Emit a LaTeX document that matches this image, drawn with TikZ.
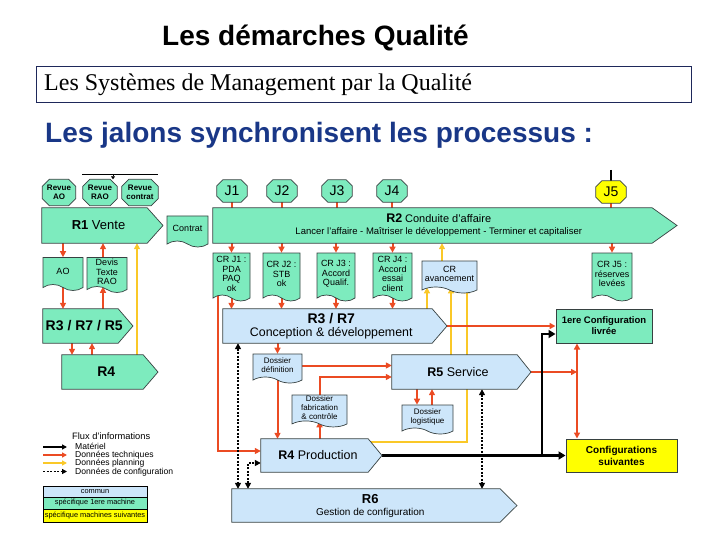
\documentclass[tikz,border=0pt]{standalone}
\usepackage{fontspec}
\setmainfont{Liberation Sans}
\newfontfamily\timesfont{Liberation Serif}
\usetikzlibrary{arrows.meta,shapes.symbols,backgrounds}

\definecolor{mint}{RGB}{125,235,190}
\definecolor{sky}{RGB}{205,230,250}
\definecolor{lemon}{RGB}{255,255,0}
\definecolor{edgegray}{RGB}{55,65,65}
\definecolor{techred}{RGB}{235,75,35}
\definecolor{plangold}{RGB}{250,200,40}
\definecolor{headblue}{RGB}{25,55,135}
\definecolor{framenavy}{RGB}{30,40,90}

\newcommand{\fs}[2]{\fontsize{#1}{#2}\selectfont}

% process arrow: name, fill, left, top, right, bottom, tip, text
\newcommand{\procbox}[8]{%
  \node[inner sep=0pt, minimum width=#5pt-#3pt, minimum height=#6pt-#4pt] (#1) at ({(#3+#5)/2},{(#4+#6)/2}) {};
  \coordinate (#1-tip) at (#7,{(#4+#6)/2});
  \filldraw[shapeline, fill=#2] (#1.north west) -- (#1.north east) -- (#1-tip) -- (#1.south east) -- (#1.south west) -- cycle;
  \node[align=center, inner sep=0pt] (#1-txt) at ({(#3+(#5+#7)/2)/2},{(#4+#6)/2}) {#8};
}
% octagon: name, fill, x, y, width, height, cut, font, text
\newcommand{\octbox}[9]{%
  \node[inner sep=0pt, minimum width=#5pt, minimum height=#6pt] (#1) at (#3,#4) {};
  \filldraw[shapeline, fill=#2] ([xshift=#7pt]#1.north west) -- ([xshift=-#7pt]#1.north east)
    -- ([yshift=-#7pt]#1.north east) -- ([yshift=#7pt]#1.south east) -- ([xshift=-#7pt]#1.south east)
    -- ([xshift=#7pt]#1.south west) -- ([yshift=#7pt]#1.south west) -- ([yshift=-#7pt]#1.north west) -- cycle;
  \node[align=center, inner sep=0pt, font=#8] (#1-txt) at (#1) {#9};
}

\begin{document}
\begin{tikzpicture}[x=1pt, y=-1pt,
    >={Triangle[length=6pt,width=6pt]},
    shapeline/.style={draw=edgegray, line width=0.7pt},
    doc/.style={shapeline, tape, tape bend top=none, tape bend bottom=out and in,
        tape bend height=6pt, inner sep=1pt, align=center, font=\fs{9}{9.5}},
    tech/.style={draw=techred, line width=2pt},
    plan/.style={draw=plangold, line width=2pt},
    mat/.style={draw=black, line width=2.4pt},
    conf/.style={draw=black, line width=2pt, dash pattern=on 2pt off 1.5pt},
    legrow/.style={draw=black, line width=0.5pt, minimum width=104pt, inner sep=0pt, font=\fs{7.4}{8}}]
\useasboundingbox (0,0) rectangle (720,540);

% en-tete
\node[font=\fs{28}{32}\bfseries] (title) at (315.5,38) {Les démarches Qualité};
\node[draw=framenavy, line width=0.8pt, minimum width=655pt, minimum height=36pt, inner sep=0pt] (smsbox) at (363.5,84) {};
\node[anchor=west, inner sep=0pt, font=\timesfont\fs{24}{26}] (smstext) at (44,85) {Les Systèmes de Management par la Qualité};
\node[anchor=west, inner sep=0pt, font=\fs{28}{30}\bfseries, text=headblue] (jalons) at (45,135) {Les jalons synchronisent les processus :};

% revues et jalons
\octbox{revao}{mint}{59}{192.5}{33}{26}{7}{\fs{8}{9}\bfseries}{Revue\\AO}
\octbox{revrao}{mint}{100}{192.5}{34}{26}{7}{\fs{8}{9}\bfseries}{Revue\\RAO}
\octbox{revcon}{mint}{140}{192.5}{36}{26}{7}{\fs{8}{9}\bfseries}{Revue\\contrat}
\octbox{j1}{mint}{232}{191}{30}{22}{6}{\fs{14}{16}}{J1}
\octbox{j2}{mint}{282}{191}{30}{22}{6}{\fs{14}{16}}{J2}
\octbox{j3}{mint}{337}{191}{30}{22}{6}{\fs{14}{16}}{J3}
\octbox{j4}{mint}{392}{191}{30}{22}{6}{\fs{14}{16}}{J4}
\octbox{j5}{lemon}{611}{192}{30}{22}{6}{\fs{14}{16}}{J5}

% processus
\procbox{r1}{mint}{42}{208}{147}{243}{163}{\fs{13}{15}\textbf{R1} Vente}
\procbox{r357}{mint}{43}{309}{118}{343}{133}{\fs{14}{16}\bfseries R3 / R7 / R5}
\procbox{r4}{mint}{62}{355}{143}{389}{158}{\fs{14}{16}\bfseries R4}
\procbox{r2}{mint}{213}{208}{652}{243}{677}{{\fs{12.5}{13}\textbf{R2}} \fs{11}{12}Conduite d'affaire\\[0pt] \fs{9.5}{11}Lancer l'affaire - Maîtriser le développement - Terminer et capitaliser}
\procbox{r37}{sky}{223}{309}{432}{343}{447}{\fs{14}{15}\textbf{R3 / R7}\\[0.5pt] \fs{12.4}{14}Conception \& développement}
\procbox{r5}{sky}{392}{355}{517}{389}{531}{\fs{12.5}{14}\textbf{R5} Service}
\procbox{r4p}{sky}{261}{439}{368}{472}{382}{\fs{12.5}{14}\textbf{R4} Production}
\procbox{r6}{sky}{232}{489}{500}{522}{517}{\fs{13}{14}\textbf{R6}\\ \fs{10}{12}Gestion de configuration}

% documents
\node[doc, fill=mint, minimum width=40pt, minimum height=33pt] (ao) at (63,271) {AO};
\node[doc, fill=mint, minimum width=40pt, minimum height=35pt] (devis) at (107,272) {Devis\\Texte\\RAO};
\node[doc, fill=mint, minimum width=41pt, minimum height=31pt] (contrat) at (187.5,228.5) {Contrat};
\node[doc, fill=mint, minimum width=37pt, minimum height=48pt] (crj1) at (231.5,274) {CR J1 :\\PDA\\PAQ\\ok};
\node[doc, fill=mint, minimum width=37pt, minimum height=48pt] (crj2) at (281.5,274) {CR J2 :\\STB\\ok};
\node[doc, fill=mint, minimum width=38pt, minimum height=48pt] (crj3) at (336,274) {CR J3 :\\Accord\\Qualif.};
\node[doc, fill=mint, minimum width=39pt, minimum height=48pt] (crj4) at (392.5,274) {CR J4 :\\Accord\\essai\\client};
\node[doc, fill=sky, minimum width=55pt, minimum height=32pt] (crav) at (449.5,274) {CR\\avancement};
\node[doc, fill=mint, minimum width=40pt, minimum height=48pt] (crj5) at (612,274) {CR J5 :\\réserves\\levées};
\node[doc, fill=sky, minimum width=49pt, minimum height=29pt, font=\fs{8}{9}] (dosdef) at (277.5,365.5) {Dossier\\définition};
\node[doc, fill=sky, minimum width=55pt, minimum height=30pt, font=\fs{8}{9}] (dosfab) at (319.5,408) {Dossier\\fabrication\\\& contrôle};
\node[doc, fill=sky, minimum width=51pt, minimum height=29pt, font=\fs{8}{9}] (doslog) at (427.5,416.5) {Dossier\\logistique};

% configurations
\node[shapeline, line width=1pt, fill=mint, minimum width=96pt, minimum height=34pt, inner sep=0pt, align=center, font=\fs{9.5}{11}\bfseries] (conf1) at (604,326) {1ere Configuration\\livrée};
\node[shapeline, line width=1pt, fill=lemon, minimum width=111pt, minimum height=33pt, inner sep=0pt, align=center, font=\fs{10}{12}\bfseries] (confs) at (621.5,455.5) {Configurations\\suivantes};

% flux
\begin{pgfonlayer}{background}
\coordinate (feedl) at (82,175);
\coordinate (feedr) at (158,175);
\coordinate (feedm) at (113,175);
\coordinate (j5feed) at (611,170);
\draw[line width=1pt] (feedl) -- (feedr);
\draw[line width=1pt, -{Triangle[length=3pt,width=4pt]}] (feedm) -- (feedm |- revrao.north);
\draw[line width=1.2pt] (j5feed) -- (j5.north);
\foreach \j in {j1,j2,j3,j4,j5}
  \draw[tech] (\j.south) -- (\j.south |- r2.north);
\foreach \c in {crj1,crj2,crj3,crj4,crj5}
  \draw[tech,->] (\c.north |- r2.south) -- (\c.north);
\foreach \c in {crj1,crj2,crj3,crj4}
  \draw[tech,->] (\c.south) -- (\c.south |- r37.north);
\draw[tech,->] (218,0 |- crj1.south) |- ([yshift=4.5pt]r4p.west);
\draw[tech,->] (ao.north |- r1.south) -- (ao.north);
\draw[tech,->] (ao.south) -- (ao.south |- r357.north);
\draw[tech,->] (103,0 |- devis.north) -- (103,0 |- r1.south);
\draw[tech,->] (103,0 |- r357.north) -- (103,0 |- devis.south);
\draw[tech,->] (72,0 |- r357.south) -- (72,0 |- r4.north);
\draw[tech,->] (92,0 |- r4.north) -- (92,0 |- r357.south);
\draw[plan,->] (137,0 |- r4.north) -- (137,0 |- r1.south);
\draw[plan,->] (442,0 |- crav.north) -- (442,0 |- r2.south);
\draw[plan,->] (427,0 |- r37.north) -- (427,0 |- crav.south);
\draw[plan,->] (451,0 |- r5.north) -- (451,0 |- crav.south);
\draw[plan,->] ([yshift=-3pt]r4p.north east) -| (467,0 |- crav.south);
\draw[tech,->] (r37-tip) -- (conf1.west);
\draw[tech,->] (r5-tip) -- (577,0 |- r5-tip);
\draw[tech,<->] (577,0 |- conf1.south) -- (577,0 |- confs.north);
\draw[tech,->] (dosdef.north |- r37.south) -- (dosdef.north);
\draw[tech,->] (dosdef.south) -- (dosdef.south |- r4p.north);
\draw[tech,->] (dosdef.east) -- (dosdef.east -| r5.west);
\draw[tech,->] (dosfab.north) |- ([yshift=-5pt]r5.west);
\draw[tech,->] (dosfab.south |- r4p.north) -- (dosfab.south);
\draw[tech,->] (417,0 |- r5.south) -- (417,0 |- doslog.north);
\draw[tech,->] (432,0 |- doslog.north) -- (432,0 |- r5.south);
\draw[mat,-{Triangle[length=7pt,width=8pt]}] (r4p-tip) -- (confs.west);
\draw[mat,-{Triangle[length=7pt,width=8pt]}] (542,0 |- r4p-tip) |- ([yshift=-8pt]conf1.west);
\draw[conf,<->] (238,0 |- r37.south) -- (238,0 |- r6.north);
\draw[conf,<->] (248,0 |- r6.north) |- ([yshift=-7.5pt]r4p.west);
\draw[conf,<->] (482,0 |- r5.south) -- (482,0 |- r6.north);
\end{pgfonlayer}

% legende
\node[anchor=west, inner sep=0pt, font=\fs{9.3}{10}] (legtitle) at (72,436) {Flux d'informations};
\coordinate (leg1a) at (43,447); \coordinate (leg1b) at (67,447);
\coordinate (leg2a) at (43,455); \coordinate (leg2b) at (67,455);
\coordinate (leg3a) at (43,463); \coordinate (leg3b) at (67,463);
\coordinate (leg4a) at (43,471.5); \coordinate (leg4b) at (67,471.5);
\draw[black, line width=1.6pt, -{Triangle[length=5pt,width=5pt]}] (leg1a) -- (leg1b);
\draw[techred, line width=1.6pt, -{Triangle[length=5pt,width=5pt]}] (leg2a) -- (leg2b);
\draw[plangold, line width=1.6pt, -{Triangle[length=5pt,width=5pt]}] (leg3a) -- (leg3b);
\draw[black, line width=1.6pt, dash pattern=on 2pt off 1.5pt, -{Triangle[length=5pt,width=5pt]}] (leg4a) -- (leg4b);
\node[anchor=west, inner sep=0pt, font=\fs{8.6}{9}] (legt1) at (75,446.5) {Matériel};
\node[anchor=west, inner sep=0pt, font=\fs{8.6}{9}] (legt2) at (75,455) {Données techniques};
\node[anchor=west, inner sep=0pt, font=\fs{8.6}{9}] (legt3) at (75,463.5) {Données planning};
\node[anchor=west, inner sep=0pt, font=\fs{8.6}{9}] (legt4) at (75,472) {Données de configuration};
\node[legrow, fill=sky, minimum height=11pt] (leg1) at (95,491.5) {commun};
\node[legrow, fill=mint, minimum height=12pt] (leg2) at (95,503) {spécifique 1ere machine};
\node[legrow, fill=lemon, minimum height=13pt] (leg3) at (95,515.5) {spécifique machines suivantes};
\end{tikzpicture}
\end{document}
